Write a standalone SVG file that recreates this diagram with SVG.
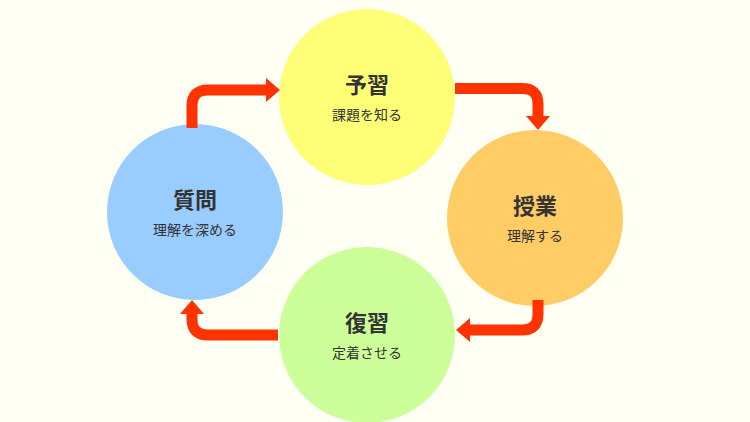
<svg xmlns="http://www.w3.org/2000/svg" width="750" height="422" viewBox="0 0 750 422">
<style>
.a{fill:none;stroke:#ff3300;stroke-width:11;stroke-linejoin:round}
.h{fill:#ff3300}
.t{font-family:"Noto Sans CJK JP",sans-serif;fill:#333;text-anchor:middle}
.b{font-size:22px;font-weight:bold}
.s{font-size:14px}
</style>
<rect width="750" height="422" fill="#fffff3"/>
<g id="yoshu"><circle cx="367" cy="97" r="88" fill="#ffff77"/><text class="t b" x="367" y="93">予習</text><text class="t s" x="367" y="120">課題を知る</text></g>
<g id="jugyo"><circle cx="535" cy="218" r="88" fill="#ffcc66"/><text class="t b" x="535" y="214">授業</text><text class="t s" x="535" y="241">理解する</text></g>
<g id="fukushu"><circle cx="367" cy="335" r="88" fill="#ccff99"/><text class="t b" x="367" y="331">復習</text><text class="t s" x="367" y="358">定着させる</text></g>
<g id="shitsumon"><circle cx="195" cy="212" r="88" fill="#99ccff"/><text class="t b" x="195" y="208">質問</text><text class="t s" x="195" y="235">理解を深める</text></g>
<g id="connectors">
<path class="a" d="M455 88.5 H522 Q538 88.5 538 104 V118"/><path class="h" d="M526 116 H550 L538 130 Z"/>
<path class="a" d="M538 300 V314 Q538 330 522 330 H468"/><path class="h" d="M470 318 V342 L456 330 Z"/>
<path class="a" d="M278 335 H208 Q192 335 192 319 V312"/><path class="h" d="M180 314 H204 L192 300 Z"/>
<path class="a" d="M192 128 V106 Q192 90 208 90 H268"/><path class="h" d="M266 78 V102 L280 90 Z"/>
</g>
</svg>
